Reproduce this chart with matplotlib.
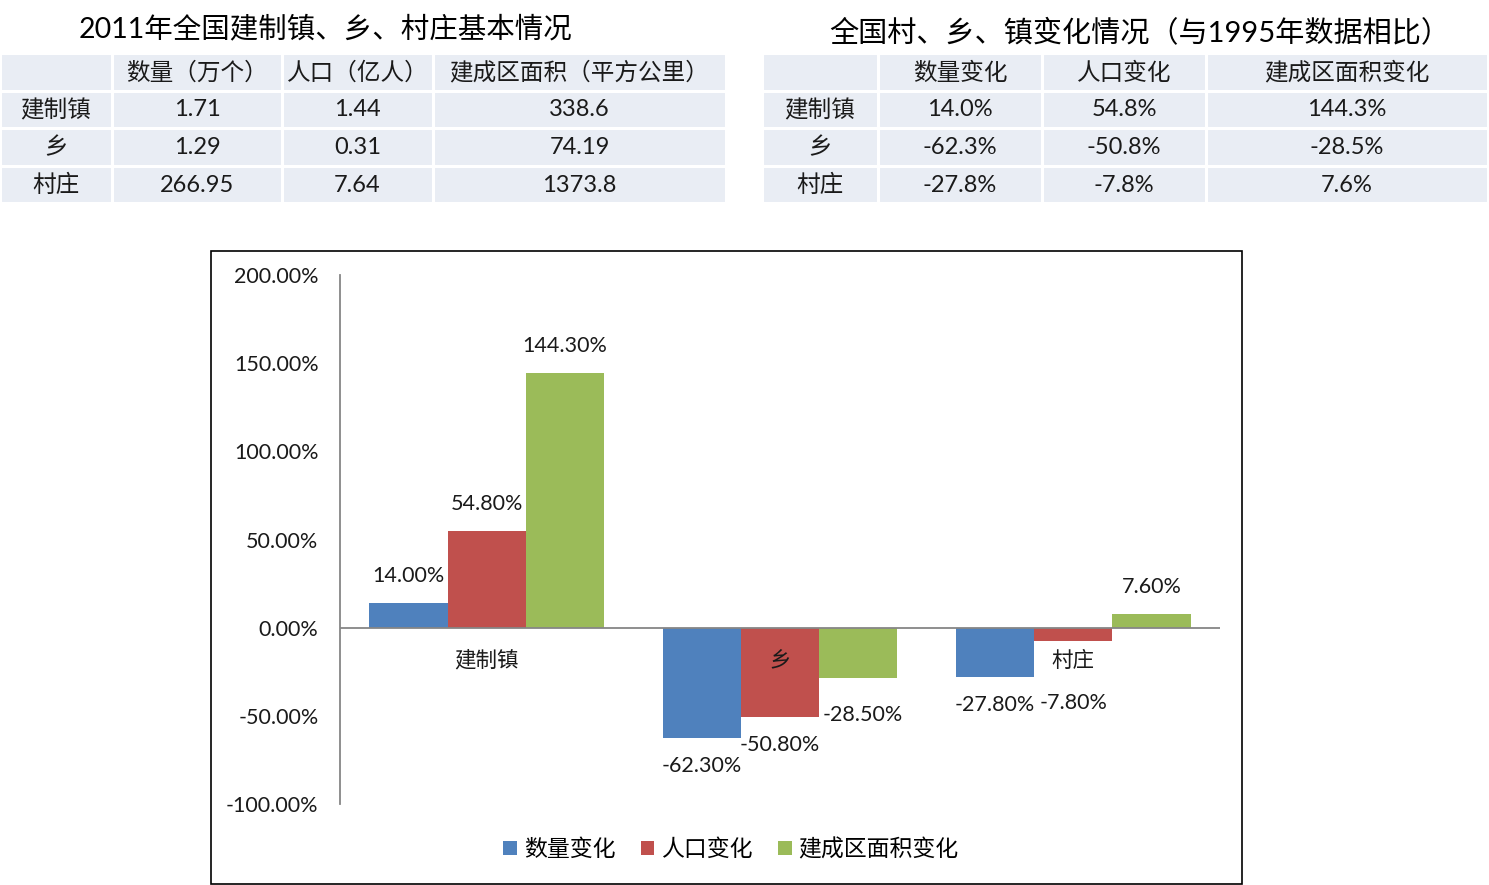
import numpy as np
import matplotlib.pyplot as plt
from matplotlib.patches import Rectangle

plt.rcParams['font.family'] = ['Lato', 'Noto Sans CJK SC', 'DejaVu Sans']

# --- data ---
places = ['建制镇', '乡', '村庄']

basic_title = '2011年全国建制镇、乡、村庄基本情况'
basic_cols = ['数量（万个）', '人口（亿人）', '建成区面积（平方公里）']
basic_count = ['1.71', '1.29', '266.95']
basic_pop = ['1.44', '0.31', '7.64']
basic_area = ['338.6', '74.19', '1373.8']

change_title = '全国村、乡、镇变化情况（与1995年数据相比）'
series_names = ['数量变化', '人口变化', '建成区面积变化']
count_change = [14.0, -62.3, -27.8]
pop_change = [54.8, -50.8, -7.8]
area_change = [144.3, -28.5, 7.6]

colors = ['#4f81bd', '#c0504d', '#9bbb59']

W, H = 1489, 885
fig = plt.figure(figsize=(W / 100, H / 100), dpi=100)


def px_axes(x0, y0, x1, y1):
    # pixel box (top-left origin) -> figure axes
    return fig.add_axes([x0 / W, 1 - y1 / H, (x1 - x0) / W, (y1 - y0) / H])


def draw_table(x0, x1, col_edges, header, rows):
    ax = px_axes(x0, 53, x1, 203)
    ax.set_xlim(x0, x1)
    ax.set_ylim(4, 0)
    ax.axis('off')
    table = [[''] + header] + rows
    for r, row in enumerate(table):
        for c, txt in enumerate(row):
            a, b = col_edges[c], col_edges[c + 1]
            ax.add_patch(Rectangle((a, r), b - a, 1, facecolor='#e9edf4',
                                   edgecolor='white', lw=2.2))
            ax.text((a + b) / 2, r + 0.52, txt, ha='center', va='center',
                    fontsize=17, color='#1a1a1a')


fig.text(326 / W, 1 - 29 / H, basic_title, ha='center', va='center', fontsize=20.5)
fig.text(1140 / W, 1 - 32 / H, change_title, ha='center', va='center', fontsize=21)

rows_left = [[p, n, q, s] for p, n, q, s in zip(places, basic_count, basic_pop, basic_area)]
draw_table(0, 726, [0, 112, 282, 433, 726], basic_cols, rows_left)

rows_right = [[p, f'{a:.1f}%', f'{b:.1f}%', f'{c:.1f}%']
              for p, a, b, c in zip(places, count_change, pop_change, area_change)]
draw_table(762, 1488, [762, 878, 1042, 1206, 1488], series_names, rows_right)

# chart frame
fig.patches.append(Rectangle((211 / W, 1 - 884 / H), 1031 / W, 633 / H,
                             transform=fig.transFigure, facecolor='none',
                             edgecolor='black', lw=1.2))

ax = px_axes(340, 275, 1220, 804)
x = np.arange(len(places))
bw = 0.8 / 3
all_series = [count_change, pop_change, area_change]
# a couple of labels sit lower / further right than the default spot
extra_drop = [[0, 0, 0], [0, 0, 34], [0, 9, 0]]
extra_right = [[0, 0, 0], [0, 0, 0], [0, 5, 0]]
for i, (vals, name) in enumerate(zip(all_series, series_names)):
    pos = x + (i - 1) * bw
    ax.bar(pos, vals, bw, color=colors[i], label=name)
    for j, (xp, v) in enumerate(zip(pos, vals)):
        off = 27 if v >= 0 else -(28 + extra_drop[i][j])
        ax.annotate(f'{v:.2f}%', (xp, v), xytext=(extra_right[i][j], off),
                    textcoords='offset pixels',
                    ha='center', va='center', fontsize=15.5, color='#1a1a1a')

ax.set_xlim(-0.5, 2.5)
ax.set_ylim(-100, 200)
ax.set_yticks([-100, -50, 0, 50, 100, 150, 200])
ax.set_yticklabels([f'{t:.2f}%' for t in ax.get_yticks()], fontsize=15.5, color='#1a1a1a')
ax.tick_params(axis='y', length=0, pad=15.5)
ax.set_xticks([])
for s in ['top', 'right', 'bottom']:
    ax.spines[s].set_visible(False)
ax.spines['left'].set_color('#868686')
ax.spines['left'].set_linewidth(1.3)
ax.axhline(0, color='#868686', lw=1.3)
for xp, name in zip(x, places):
    ax.annotate(name, (xp, 0), xytext=(0, -33), textcoords='offset pixels',
                ha='center', va='center', fontsize=15.5, color='#1a1a1a')
ax.patch.set_alpha(0)

handles, labels = ax.get_legend_handles_labels()
fig.legend(handles, labels, loc='center', bbox_to_anchor=(731 / W, 1 - 849 / H),
           ncol=3, frameon=False, fontsize=16.5, handlelength=0.6, handleheight=0.6,
           handletextpad=0.3, columnspacing=1.1)

fig.savefig('out.png', dpi=100)
